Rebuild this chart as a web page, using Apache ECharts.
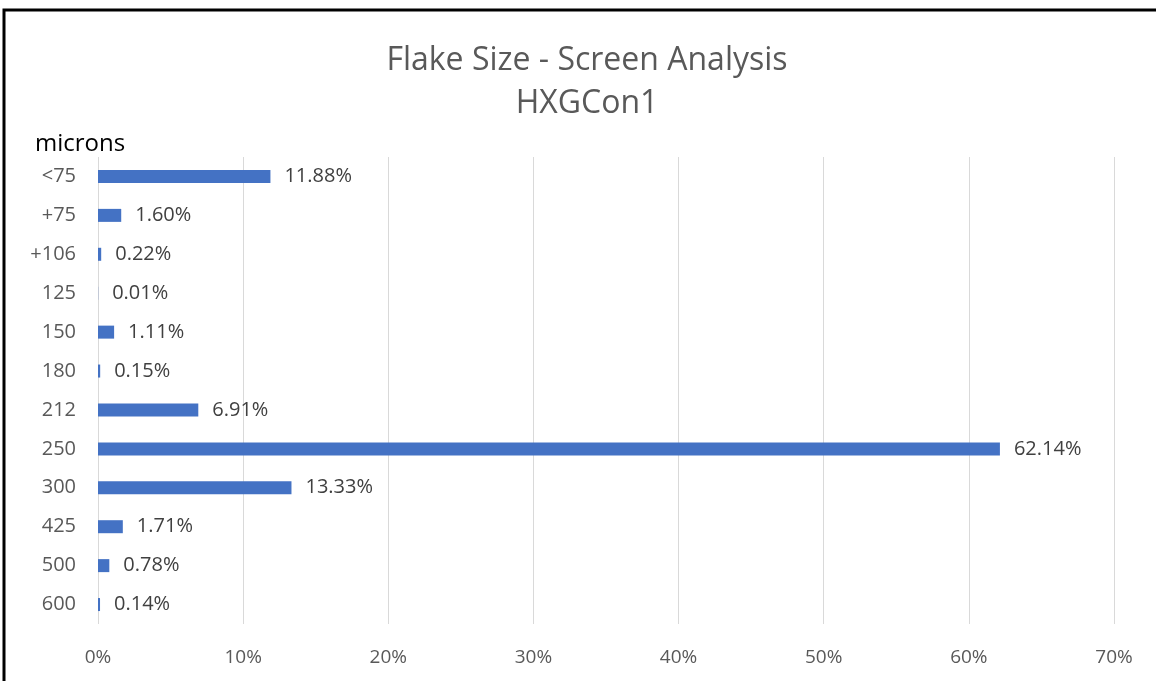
<!DOCTYPE html>
<html><head><meta charset="utf-8">
<script src="https://cdn.jsdelivr.net/npm/echarts@6/dist/echarts.min.js"></script>
<style>html,body{margin:0;padding:0;background:#fff}#c{width:1156px;height:681px}</style>
</head><body><div id="c"></div>
<script>
const categories = ['<75','+75','+106','125','150','180','212','250','300','425','500','600'];
const values = [11.88, 1.60, 0.22, 0.01, 1.11, 0.15, 6.91, 62.14, 13.33, 1.71, 0.78, 0.14];
const titleLines = ['Flake Size - Screen Analysis', 'HXGCon1'];
const axisUnit = 'microns';

const chart = echarts.init(document.getElementById('c'));
const font = '"Open Sans", "Liberation Sans", sans-serif';
chart.setOption({
  animation: false,
  backgroundColor: '#fff',
  title: {
    text: titleLines.join('\n'), left: 582, top: 34, textAlign: 'center',
    textStyle: {fontFamily: font, fontSize: 32, fontWeight: 'normal', color: '#595959', lineHeight: 43}
  },
  graphic: [
    {type: 'rect', shape: {x: 4, y: 10, width: 1200, height: 700}, style: {fill: 'none', stroke: '#000', lineWidth: 3}, silent: true},
    {type: 'text', left: 35, top: 132, style: {text: axisUnit, font: '24px ' + font, fill: '#000'}}
  ],
  grid: {left: 98, right: 42, top: 157, bottom: 57, containLabel: false},
  xAxis: {
    type: 'value', min: 0, max: 70, interval: 10,
    axisLine: {show: false}, axisTick: {show: false},
    axisLabel: {formatter: '{value}%', color: '#595959', fontSize: 19, fontFamily: font, margin: 24},
    splitLine: {show: true, lineStyle: {color: '#d9d9d9', width: 1}}
  },
  yAxis: {
    type: 'category', data: categories, inverse: true,
    axisLine: {show: false}, axisTick: {show: false},
    axisLabel: {color: '#595959', fontSize: 20, fontFamily: font, margin: 22}
  },
  series: [{
    type: 'bar', data: values, barWidth: 13,
    itemStyle: {color: '#4472c4'},
    label: {show: true, position: 'right', distance: 14, formatter: p => p.value.toFixed(2) + '%',
      color: '#404040', fontSize: 20, fontFamily: font}
  }]
});
</script></body></html>
